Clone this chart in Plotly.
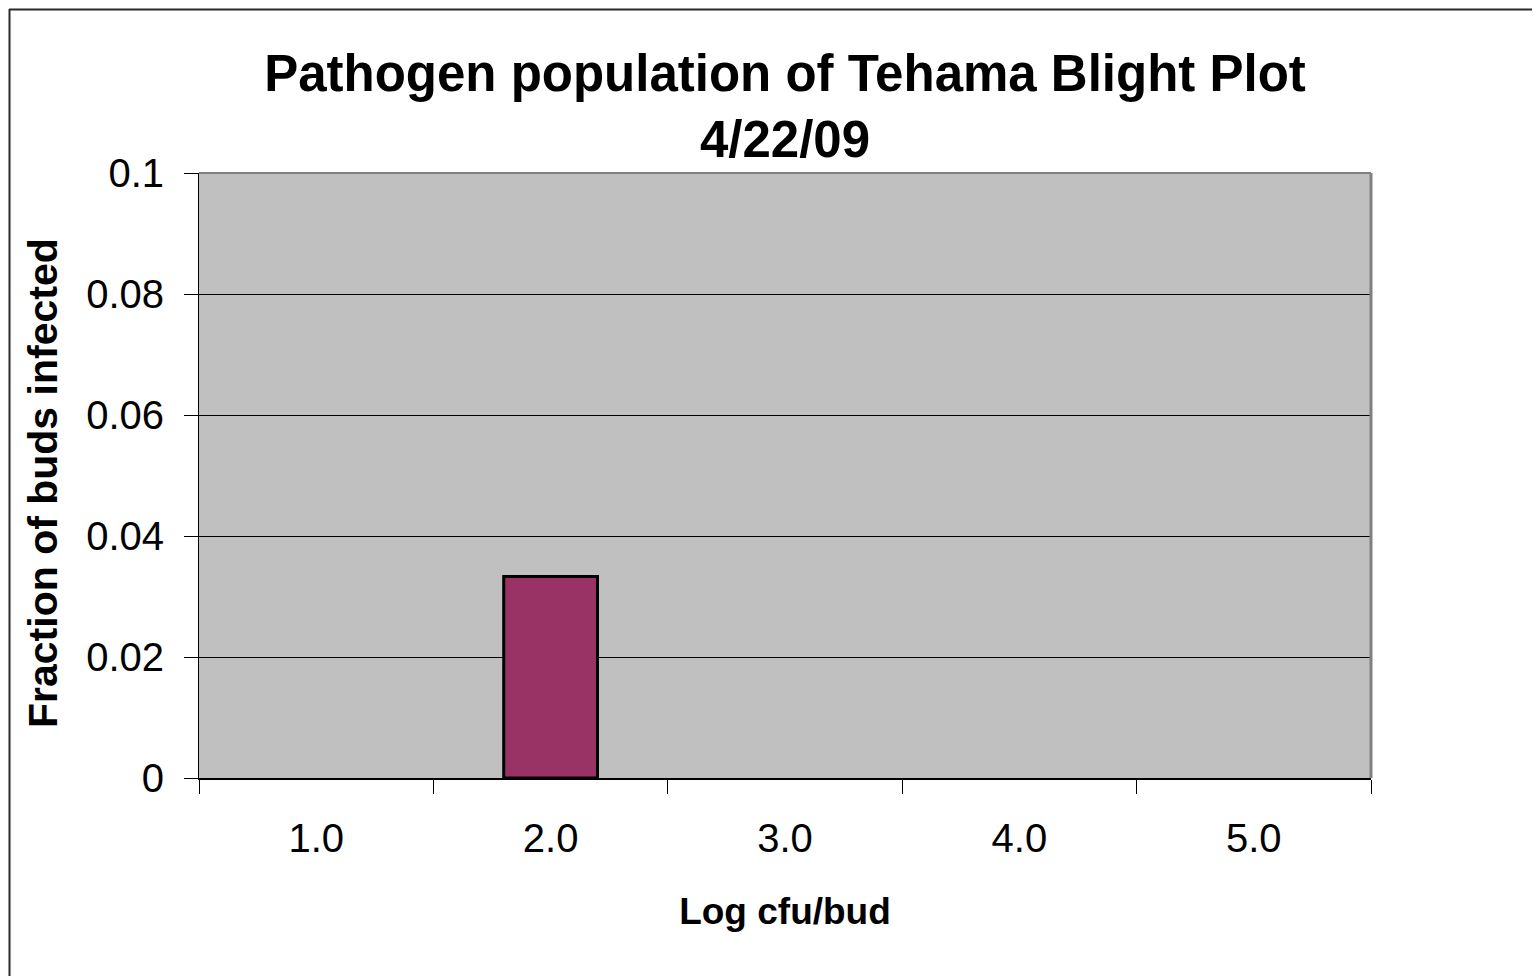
import plotly.graph_objects as go

# Data
categories = ["1.0", "2.0", "3.0", "4.0", "5.0"]
fraction_infected = [0, 0.0333, 0, 0, 0]
y_tick_vals = [0, 0.02, 0.04, 0.06, 0.08, 0.1]
y_tick_text = ["0", "0.02", "0.04", "0.06", "0.08", "0.1"]

W, H = 1540, 976
OFF = 8  # page body margin offset
L, T = 199 - OFF, 173 - OFF
R = W - (1371 - OFF)
B = H - (778 - OFF)
pw, ph = W - L - R, H - T - B

def px_x(p):
    # screen pixel -> paper x
    return (p - OFF - L) / pw

def px_y(p):
    return (H - B - (p - OFF)) / ph

FONT = "Liberation Sans, Arial, sans-serif"

fig = go.Figure()
fig.add_trace(go.Bar(
    x=categories, y=fraction_infected, width=0.4,
    marker=dict(color="#993366",
                line=dict(color="black", width=[3 if v else 0 for v in fraction_infected])),
))

shapes = [
    # dark panel border
    dict(type="line", xref="paper", yref="paper", layer="below",
         x0=px_x(9.5), x1=px_x(9.5), y0=px_y(9), y1=px_y(1000),
         line=dict(color="#2a2a2a", width=2)),
    dict(type="line", xref="paper", yref="paper", layer="below",
         x0=px_x(9), x1=px_x(1600), y0=px_y(9.5), y1=px_y(9.5),
         line=dict(color="#2a2a2a", width=2)),
    # grey plot border (top and right)
    dict(type="line", xref="paper", yref="paper", x0=0, x1=1, y0=1, y1=1,
         line=dict(color="#808080", width=2)),
    dict(type="line", xref="paper", yref="paper", x0=1, x1=1, y0=0, y1=1,
         line=dict(color="#808080", width=3)),
]

annotations = [
    dict(text="<b>Fraction of buds infected</b>", textangle=-90,
         xref="paper", yref="paper", x=px_x(43), y=px_y(483),
         xanchor="center", yanchor="middle", showarrow=False,
         font=dict(size=41, family=FONT, color="black")),
]

fig.update_layout(
    width=W, height=H,
    margin=dict(l=L, r=R, t=T, b=B),
    paper_bgcolor="white",
    plot_bgcolor="#c0c0c0",
    showlegend=False,
    shapes=shapes,
    annotations=annotations,
    font=dict(family=FONT, color="black"),
    title=dict(
        text="<b>Pathogen population of Tehama Blight Plot<br>4/22/09</b>",
        x=(785 - OFF) / W, xanchor="center",
        y=1 - 83 / H, yanchor="top", yref="container",
        font=dict(size=51, family=FONT, color="black"),
    ),
    xaxis=dict(
        type="category", categoryorder="array", categoryarray=categories,
        range=[-0.5, 4.5],
        tickson="boundaries", ticks="outside", ticklen=14, tickcolor="black", tickwidth=1,
        showgrid=False, showline=True, linecolor="black", linewidth=2,
        tickfont=dict(size=40, family=FONT), ticklabelstandoff=24,
        title=dict(text="<b>Log cfu/bud</b>", font=dict(size=37, family=FONT), standoff=39),
    ),
    yaxis=dict(
        range=[0, 0.1], tickvals=y_tick_vals, ticktext=y_tick_text,
        ticks="outside", ticklen=14, tickcolor="black", tickwidth=1,
        showgrid=True, gridcolor="black", gridwidth=1,
        showline=True, linecolor="black", linewidth=1,
        zeroline=False,
        tickfont=dict(size=40, family=FONT), ticklabelstandoff=12,
    ),
)

fig.write_html("out.html")
